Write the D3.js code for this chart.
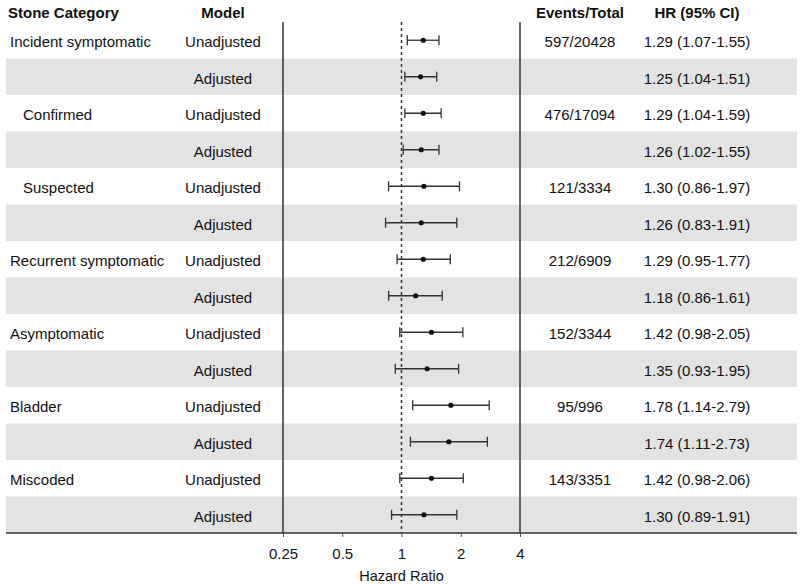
<!DOCTYPE html>
<html>
<head>
<meta charset="utf-8">
<script src="https://cdn.jsdelivr.net/npm/d3@7"></script>
<style>
  body { margin: 0; background: #fff; }
  text { font-family: "Liberation Sans", Arial, sans-serif; fill: #111; }
</style>
</head>
<body>
<div id="chart"></div>
<script>
// data
var categories = ['Incident symptomatic', '', 'Confirmed', '', 'Suspected', '', 'Recurrent symptomatic', '',
                  'Asymptomatic', '', 'Bladder', '', 'Miscoded', ''];
var indented = [false, false, true, false, true, false, false, false, false, false, false, false, false, false];
var models = ['Unadjusted', 'Adjusted', 'Unadjusted', 'Adjusted', 'Unadjusted', 'Adjusted', 'Unadjusted', 'Adjusted',
              'Unadjusted', 'Adjusted', 'Unadjusted', 'Adjusted', 'Unadjusted', 'Adjusted'];
var hr    = [1.29, 1.25, 1.29, 1.26, 1.30, 1.26, 1.29, 1.18, 1.42, 1.35, 1.78, 1.74, 1.42, 1.30];
var lower = [1.07, 1.04, 1.04, 1.02, 0.86, 0.83, 0.95, 0.86, 0.98, 0.93, 1.14, 1.11, 0.98, 0.89];
var upper = [1.55, 1.51, 1.59, 1.55, 1.97, 1.91, 1.77, 1.61, 2.05, 1.95, 2.79, 2.73, 2.06, 1.91];
var events = ['597/20428', '', '476/17094', '', '121/3334', '', '212/6909', '', '152/3344', '', '95/996', '', '143/3351', ''];
var tickValues = [0.25, 0.5, 1, 2, 4];

var width = 800, height = 585;
var plotTop = 22, rowH = 36.5;
var plotBottom = plotTop + rowH * categories.length;
var fontSize = '15px';

var svg = d3.select('#chart').append('svg')
    .attr('width', width)
    .attr('height', height);

var xScale = d3.scaleLog().base(2)
    .domain([0.25, 4])
    .range([283, 520]);

var yScale = d3.scaleBand()
    .domain(d3.range(categories.length))
    .range([plotTop, plotBottom]);

var fmt = d3.format('.2f');

// stripes
svg.selectAll('rect.band')
    .data(d3.range(categories.length).filter(function(i){ return i % 2 == 1; }))
    .enter().append('rect')
    .attr('class', 'band')
    .attr('x', 6)
    .attr('width', 791)
    .attr('y', function(i){ return yScale(i); })
    .attr('height', yScale.bandwidth())
    .style('fill', '#e3e3e3');

// headers
var headY = 13;
svg.append('text').attr('x', 8).attr('y', headY).attr('dy', '0.35em')
    .style('font-weight', 'bold').style('font-size', fontSize).text('Stone Category');
svg.append('text').attr('x', 223).attr('y', headY).attr('dy', '0.35em').attr('text-anchor', 'middle')
    .style('font-weight', 'bold').style('font-size', fontSize).text('Model');
svg.append('text').attr('x', 580).attr('y', headY).attr('dy', '0.35em').attr('text-anchor', 'middle')
    .style('font-weight', 'bold').style('font-size', fontSize).text('Events/Total');
svg.append('text').attr('x', 697).attr('y', headY).attr('dy', '0.35em').attr('text-anchor', 'middle')
    .style('font-weight', 'bold').style('font-size', fontSize).text('HR (95% CI)');

var rows = svg.selectAll('g.row')
    .data(d3.range(categories.length))
    .enter().append('g')
    .attr('class', 'row')
    .attr('transform', function(i){ return 'translate(0,' + (yScale(i) + yScale.bandwidth() / 2) + ')'; });

rows.append('text')
    .attr('x', function(i){ return indented[i] ? 23 : 10; })
    .attr('y', 1.5)
    .attr('dy', '0.35em')
    .style('font-size', fontSize)
    .text(function(i){ return categories[i]; });

rows.append('text')
    .attr('x', 223)
    .attr('y', 1.5)
    .attr('dy', '0.35em')
    .attr('text-anchor', 'middle')
    .style('font-size', fontSize)
    .text(function(i){ return models[i]; });

rows.append('text')
    .attr('x', 580)
    .attr('y', 1.5)
    .attr('dy', '0.35em')
    .attr('text-anchor', 'middle')
    .style('font-size', fontSize)
    .text(function(i){ return events[i]; });

rows.append('text')
    .attr('x', 697)
    .attr('y', 1.5)
    .attr('dy', '0.35em')
    .attr('text-anchor', 'middle')
    .style('font-size', fontSize)
    .text(function(i){ return fmt(hr[i]) + ' (' + fmt(lower[i]) + '-' + fmt(upper[i]) + ')'; });

// plot frame lines
svg.selectAll('line.frame')
    .data([0.25, 4])
    .enter().append('line')
    .attr('class', 'frame')
    .attr('x1', function(d){ return xScale(d); })
    .attr('x2', function(d){ return xScale(d); })
    .attr('y1', plotTop)
    .attr('y2', plotBottom)
    .style('stroke', '#333')
    .style('stroke-width', 1.5);

svg.append('line')
    .attr('x1', xScale(1)).attr('x2', xScale(1))
    .attr('y1', plotTop).attr('y2', plotBottom)
    .style('stroke', '#333')
    .style('stroke-width', 1.5)
    .style('stroke-dasharray', '3,3');

// CIs
rows.append('line')
    .attr('x1', function(i){ return xScale(lower[i]); })
    .attr('x2', function(i){ return xScale(upper[i]); })
    .style('stroke', '#333')
    .style('stroke-width', 1.3);
rows.append('line')
    .attr('x1', function(i){ return xScale(lower[i]); })
    .attr('x2', function(i){ return xScale(lower[i]); })
    .attr('y1', -5).attr('y2', 5)
    .style('stroke', '#333')
    .style('stroke-width', 1.3);
rows.append('line')
    .attr('x1', function(i){ return xScale(upper[i]); })
    .attr('x2', function(i){ return xScale(upper[i]); })
    .attr('y1', -5).attr('y2', 5)
    .style('stroke', '#333')
    .style('stroke-width', 1.3);
rows.append('circle')
    .attr('cx', function(i){ return xScale(hr[i]); })
    .attr('r', 2.6)
    .style('fill', '#111');

// axis
svg.append('line')
    .attr('x1', 6).attr('x2', 797)
    .attr('y1', plotBottom).attr('y2', plotBottom)
    .style('stroke', '#333')
    .style('stroke-width', 1.5);

var xAxis = d3.axisBottom(xScale)
    .tickValues(tickValues)
    .tickFormat(function(d){ return d; })
    .tickSize(4)
    .tickPadding(11);

var xGuide = svg.append('g')
    .attr('transform', 'translate(0,' + plotBottom + ')')
    .call(xAxis);
xGuide.select('.domain').remove();
xGuide.selectAll('line').style('stroke', '#555');
xGuide.selectAll('text')
    .style('font-size', fontSize)
    .style('font-family', '"Liberation Sans", Arial, sans-serif')
    .style('fill', '#111');

svg.append('text')
    .attr('x', xScale(1))
    .attr('y', 576)
    .attr('dy', '0.35em')
    .attr('text-anchor', 'middle')
    .style('font-size', '14.5px')
    .text('Hazard Ratio');
</script>
</body>
</html>
